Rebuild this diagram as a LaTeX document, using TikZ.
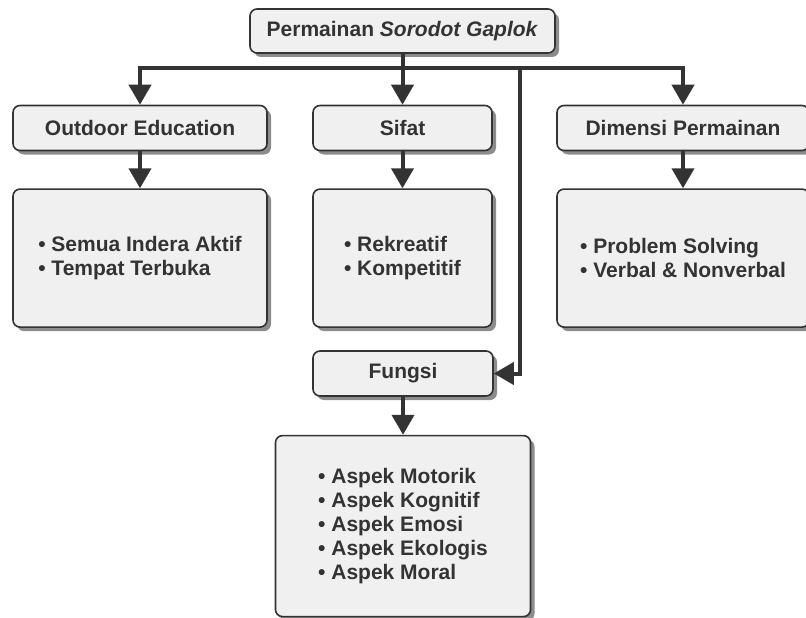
\documentclass[tikz,border=0pt]{standalone}
\usepackage{fontspec}
\setmainfont{Liberation Sans}
\usetikzlibrary{arrows.meta,positioning,shadows}
\definecolor{ink}{HTML}{333333}
\definecolor{boxfill}{HTML}{F0F0F0}
\definecolor{shade}{HTML}{8C8C8C}

\begin{document}
\begin{tikzpicture}[x=1pt, y=-1pt, text=ink, font=\fontsize{21}{24}\selectfont\bfseries]
\tikzstyle{box}=[draw=ink, line width=1.6pt, rounded corners=7pt, fill=boxfill, inner sep=0pt,
  drop shadow={shadow xshift=4pt, shadow yshift=-4pt, fill=shade, opacity=1}]
\tikzstyle{head}=[box, minimum height=45pt]
\tikzstyle{list}=[box, align=left]
\tikzstyle{arr}=[-{Triangle[length=20pt,width=22pt]}, line width=4pt, draw=ink]

\useasboundingbox (0,0) rectangle (806,618);

\node[head, minimum width=305pt, minimum height=44pt] (root) at (402.5,31) {Permainan \textit{Sorodot Gaplok}};
\node[head, minimum width=254pt] (outdoor) at (140,128) {Outdoor Education};
\node[head, minimum width=179pt] (sifat) at (402.5,128) {Sifat};
\node[head, minimum width=252pt] (dimensi) at (683,128) {Dimensi Permainan};

\node[list, minimum width=254pt, minimum height=138pt, below=37pt of outdoor] (outdoorlist)
  {\textbullet\ Semua Indera Aktif\\\textbullet\ Tempat Terbuka};
\node[list, minimum width=179pt, minimum height=138pt, below=37pt of sifat] (sifatlist)
  {\textbullet\ Rekreatif\\\textbullet\ Kompetitif};
\node[list, minimum width=252pt, minimum height=138pt, below=37pt of dimensi] (dimensilist)
  {\textbullet\ Problem Solving\\\textbullet\ Verbal \& Nonverbal};

\node[head, minimum width=180pt] (fungsi) at (403,373.5) {Fungsi};
\node[list, minimum width=255pt, minimum height=181pt, below=38pt of fungsi] (fungsilist)
  {\textbullet\ Aspek Motorik\\\textbullet\ Aspek Kognitif\\\textbullet\ Aspek Emosi\\
   \textbullet\ Aspek Ekologis\\\textbullet\ Aspek Moral};

% branch bar under the root
\coordinate (bus) at (402.5,68);
\coordinate (tap) at (520,68);
\draw[arr] (bus) -| (outdoor.north);
\draw[arr] (bus) -| (dimensi.north);
\draw[arr] (root) -- (sifat);
\draw[arr] (tap) |- (fungsi.east);

\draw[arr] (outdoor) -- (outdoorlist);
\draw[arr] (sifat) -- (sifatlist);
\draw[arr] (dimensi) -- (dimensilist);
\draw[arr] (fungsi) -- (fungsilist);

\end{tikzpicture}
\end{document}
